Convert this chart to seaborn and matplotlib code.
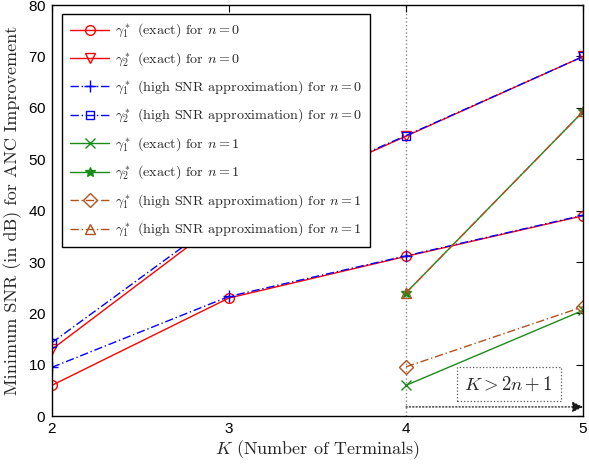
import matplotlib
matplotlib.use("Agg")
import matplotlib.pyplot as plt
import seaborn as sns
import pandas as pd

# ---- data ----
K_n0 = [2, 3, 4, 5]
g1_exact_n0 = [6.0, 23.0, 31.1, 39.0]
g2_exact_n0 = [13.0, 39.0, 54.5, 70.0]
g1_hs_n0 = [9.5, 23.3, 31.2, 39.1]
g2_hs_n0 = [14.3, 39.5, 54.6, 70.0]

K_n1 = [4, 5]
g1_exact_n1 = [6.0, 20.6]
g2_exact_n1 = [24.0, 59.3]
g1_hs_n1 = [9.6, 21.3]
g2_hs_n1 = [24.0, 59.3]

labels = [
    r"$\gamma_1^*$ (exact) for $n=0$",
    r"$\gamma_2^*$ (exact) for $n=0$",
    r"$\gamma_1^*$ (high SNR approximation) for $n=0$",
    r"$\gamma_2^*$ (high SNR approximation) for $n=0$",
    r"$\gamma_1^*$ (exact) for $n=1$",
    r"$\gamma_2^*$ (exact) for $n=1$",
    r"$\gamma_1^*$ (high SNR approximation) for $n=1$",
    r"$\gamma_1^*$ (high SNR approximation) for $n=1$",
]
xticks = [2, 3, 4, 5]
yticks = [0, 10, 20, 30, 40, 50, 60, 70, 80]

sns.set_theme(style="white")
plt.rcParams["mathtext.fontset"] = "cm"
plt.rcParams["axes.formatter.use_mathtext"] = True

RED = "#ff0000"
BLUE = "#0000ff"
GREEN = "#1a8c1a"
BROWN = "#b0521e"

DASHDOT = (0, (6, 2, 1, 2))
series = [
    (K_n0, g1_exact_n0, RED, "-", "o", 7, "none"),
    (K_n0, g2_exact_n0, RED, "-", "v", 7, "none"),
    (K_n0, g1_hs_n0, BLUE, DASHDOT, "+", 8, BLUE),
    (K_n0, g2_hs_n0, BLUE, DASHDOT, "s", 6, "none"),
    (K_n1, g1_exact_n1, GREEN, "-", "x", 7, GREEN),
    (K_n1, g2_exact_n1, GREEN, "-", "*", 7, GREEN),
    (K_n1, g1_hs_n1, BROWN, DASHDOT, "D", 7, "none"),
    (K_n1, g2_hs_n1, BROWN, DASHDOT, "^", 7, "none"),
]

fig = plt.figure(figsize=(5.89, 4.65), dpi=100)
ax = fig.add_axes([0.088, 0.105, 0.902, 0.884])

for (k, v, c, ls, m, ms, mfc), lab in zip(series, labels):
    df = pd.DataFrame({"K": k, "v": v})
    sns.lineplot(data=df, x="K", y="v", ax=ax, color=c, linestyle=ls,
                 marker=m, markersize=ms, markerfacecolor=mfc,
                 markeredgecolor=c, markeredgewidth=1.0, linewidth=1.0,
                 label=lab)

ax.axvline(4, color="#888888", linestyle=":", linewidth=1.0, zorder=0)

ax.annotate("", xy=(5, 1.8), xytext=(4, 1.8),
            arrowprops=dict(arrowstyle="-|>", linestyle=":", color="k",
                            lw=0.9, mutation_scale=16, shrinkA=0, shrinkB=0))
ax.text(4.58, 6.3, r"$K > 2n+1$", fontsize=13.5, ha="center", va="center",
        bbox=dict(boxstyle="square,pad=0.4", facecolor="white",
                  edgecolor="#555555", linestyle=":", linewidth=0.9))

ax.set_xlim(2, 5)
ax.set_ylim(0, 80)
ax.set_xticks(xticks)
ax.set_yticks(yticks)
ax.tick_params(direction="in", length=5, width=0.8, top=True, right=True,
               labelsize=11, pad=4, colors="black")
for lab in ax.get_xticklabels() + ax.get_yticklabels():
    lab.set_fontfamily("Liberation Sans")
for s in ax.spines.values():
    s.set_color("black")
    s.set_linewidth(1.0)

ax.set_xlabel(r"$K$ (Number of Terminals)", fontsize=13, fontfamily="cmr10",
              labelpad=2)
ax.set_ylabel("Minimum SNR (in dB) for ANC Improvement", fontsize=13,
              fontfamily="cmr10", labelpad=4)

leg = ax.legend(loc="upper left", bbox_to_anchor=(0.019, 0.978),
                prop={"family": "cmr10", "size": 10.2}, frameon=True,
                fancybox=False, handlelength=2.8, labelspacing=0.72,
                borderpad=0.55, handletextpad=0.4, borderaxespad=0)
leg.get_frame().set_edgecolor("black")
leg.get_frame().set_linewidth(1.0)
leg.get_frame().set_alpha(1.0)

fig.savefig("out.png", dpi=100)
